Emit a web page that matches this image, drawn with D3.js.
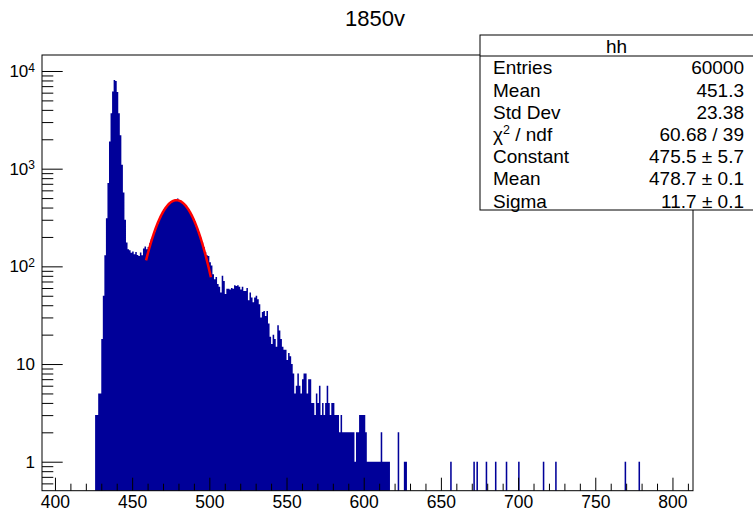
<!DOCTYPE html>
<html><head><meta charset="utf-8">
<script src="https://cdn.jsdelivr.net/npm/d3@7"></script>
<style>
body{margin:0;background:#fff;}
svg{display:block;font-family:"Liberation Sans",Arial,Helvetica,sans-serif;}
</style></head><body>
<svg id="c" width="753" height="512"></svg>
<script>
// ---------------- data ----------------
const title = "1850v";
const binStart = 426;
const binWidth = 1;
const counts = [
  3,3,5,5,18,50,130,310,715,1900,          // 426-435
  3700,6150,8100,7900,6100,3700,2200,1100,570,300, // 436-445
  175,150,146,138,142,133,140,131,128,139, // 446-455
  130,152,160,150,158,172,190,206,226,255, // 456-465
  272,305,322,352,368,396,410,434,442,461, // 466-475
  463,478,470,494,468,458,455,432,424,398, // 476-485
  384,352,338,305,290,258,240,216,196,175, // 486-495
  158,140,130,128,110,102,83,74,78,66,     // 496-505
  62,54,80,71,52,59,59,58,60,59,           // 506-515
  64,63,64,62,58,62,56,56,60,45,           // 516-525
  54,48,43,48,50,46,41,30,34,35,           // 526-535
  31,35,26,19,16,20,18,15,25,22,           // 536-545
  18,15,14,14,11,13,12,10,8,5,             // 546-555
  6,8,6,5,7,8,8,5,7,7,                     // 556-565
  4,4,3,5,4,6,3,4,3,4,                     // 566-575
  6,4,3,4,4,3,3,3,2,3,                     // 576-585
  2,2,2,2,2,2,2,2,1,2,                     // 586-595
  2,3,3,3,3,2,1,1,1,1,                     // 596-605
  1,1,1,1,1,2,1,1,1,1,                     // 606-615
  1,0,0,0,0,0,2,0,0,0,                     // 616-625
  1,1                                      // 626-627
];
const tailBins   = [656, 671, 673, 679, 685, 692, 700, 716, 724, 769, 778];
const tailCounts = [1, 1, 1, 1, 1, 1, 1, 1, 1, 1, 1];

const xDomain = [391.6, 813.3];
const yDomain = [0.505, 14580];
const xTicks = [400, 450, 500, 550, 600, 650, 700, 750, 800];
const yTicks = [1, 10, 100, 1000, 10000];
const yTickBase = ["1", "10", "10", "10", "10"];
const yTickExp  = ["", "", "2", "3", "4"];

const fitParams = [475.5, 478.7, 11.7];   // constant, mean, sigma
const fitRange  = [459, 501];

const statHeader = "hh";
const statNames  = ["Entries", "Mean", "Std Dev", "χ2 / ndf", "Constant", "Mean", "Sigma"];
const statValues = ["60000", "451.3", "23.38", "60.68 / 39", "475.5 ± 5.7", "478.7 ± 0.1", "11.7 ± 0.1"];

// ---------------- layout ----------------
const m = {left: 42, right: 693, top: 55, bottom: 490.7};
const svg = d3.select("#c");
const x = d3.scaleLinear().domain(xDomain).range([m.left, m.right]);
const y = d3.scaleLog().domain(yDomain).range([m.bottom, m.top]);
const FONT = "Liberation Sans, Arial, sans-serif";
const BAR = "#000099";

svg.append("rect").attr("width", 753).attr("height", 512).attr("fill", "#fff");

// main contiguous histogram as one stepped area
const mainBins = counts.map((c, i) => ({lo: binStart + i * binWidth, c}));
mainBins.push({lo: binStart + counts.length * binWidth, c: counts[counts.length - 1]});
const yc = c => c > 0 ? y(c) : m.bottom;
svg.append("path")
  .attr("d", d3.area().curve(d3.curveStepAfter)
    .x(d => x(d.lo)).y0(m.bottom).y1(d => yc(d.c))(mainBins))
  .attr("fill", BAR);

// isolated tail bins
svg.append("g").selectAll("rect").data(tailBins.map((b, i) => ({lo: b, c: tailCounts[i]}))).join("rect")
  .attr("x", d => x(d.lo))
  .attr("width", d => x(d.lo + binWidth) - x(d.lo))
  .attr("y", d => y(d.c))
  .attr("height", d => m.bottom - y(d.c))
  .attr("fill", BAR);

// fit curve
const gaus = v => fitParams[0] * Math.exp(-0.5 * Math.pow((v - fitParams[1]) / fitParams[2], 2));
const fitPts = d3.range(fitRange[0], fitRange[1] + 0.001, 0.25);
svg.append("path")
  .attr("d", d3.line().x(v => x(v)).y(v => y(gaus(v)))(fitPts))
  .attr("fill", "none").attr("stroke", "#ff0000").attr("stroke-width", 2.5);

// frame
svg.append("rect")
  .attr("x", m.left).attr("y", m.top)
  .attr("width", m.right - m.left).attr("height", m.bottom - m.top)
  .attr("fill", "none").attr("stroke", "#000").attr("stroke-width", 1);

// x axis
const xMinor = d3.range(410, xDomain[1], 10).filter(v => v % 50 !== 0);
const gx = svg.append("g").attr("transform", `translate(0,${m.bottom})`)
  .call(d3.axisBottom(x).tickValues(xTicks).tickSize(-13).tickPadding(5).tickFormat(d3.format("d")));
gx.select(".domain").remove();
gx.selectAll("text").attr("font-size", 17.5).attr("font-family", FONT).attr("fill", "#000");
const gxm = svg.append("g").attr("transform", `translate(0,${m.bottom})`)
  .call(d3.axisBottom(x).tickValues(xMinor).tickSize(-7).tickFormat(""));
gxm.select(".domain").remove();

// y axis
const yMinor = [];
[0.1, 1, 10, 100, 1000].forEach(dec => { for (let k = 2; k <= 9; k++) { const v = k * dec; if (v >= yDomain[0] && v <= yDomain[1]) yMinor.push(v); } });
const gy = svg.append("g").attr("transform", `translate(${m.left},0)`)
  .call(d3.axisLeft(y).tickValues(yTicks).tickSize(-20.7).tickPadding(7).tickFormat(""));
gy.select(".domain").remove();
gy.selectAll(".tick text").each(function(d, i) {
  const t = d3.select(this).attr("font-size", 17).attr("font-family", FONT).attr("fill", "#000");
  t.text(null);
  t.append("tspan").text(yTickBase[i]);
  if (yTickExp[i]) t.append("tspan").attr("font-size", 12).attr("dy", "-0.45em").text(yTickExp[i]);
});
const gym = svg.append("g").attr("transform", `translate(${m.left},0)`)
  .call(d3.axisLeft(y).tickValues(yMinor).tickSize(-11.3).tickFormat(""));
gym.select(".domain").remove();

// title
svg.append("text").attr("x", 375).attr("y", 26).attr("text-anchor", "middle")
  .attr("font-size", 22).text(title);

// stats box
const sb = svg.append("g");
sb.append("rect").attr("x", 480).attr("y", 35).attr("width", 290).attr("height", 175)
  .attr("fill", "#fff").attr("stroke", "#000").attr("stroke-width", 1);
sb.append("line").attr("x1", 480).attr("x2", 760).attr("y1", 56).attr("y2", 56).attr("stroke", "#000");
sb.append("text").attr("x", 616.5).attr("y", 53).attr("text-anchor", "middle").attr("font-size", 19).text(statHeader);
statNames.forEach((n, i) => {
  const yy = 74.3 + i * 22.2;
  const t = sb.append("text").attr("x", 493).attr("y", yy).attr("font-size", 19);
  if (n.startsWith("χ2")) {
    t.append("tspan").text("χ");
    t.append("tspan").attr("font-size", 12.5).attr("dy", "-7").text("2");
    t.append("tspan").attr("dy", "7").text(n.slice(2));
  } else t.text(n);
  sb.append("text").attr("x", 744).attr("y", yy).attr("text-anchor", "end").attr("font-size", 19).text(statValues[i]);
});
</script>
</body></html>
